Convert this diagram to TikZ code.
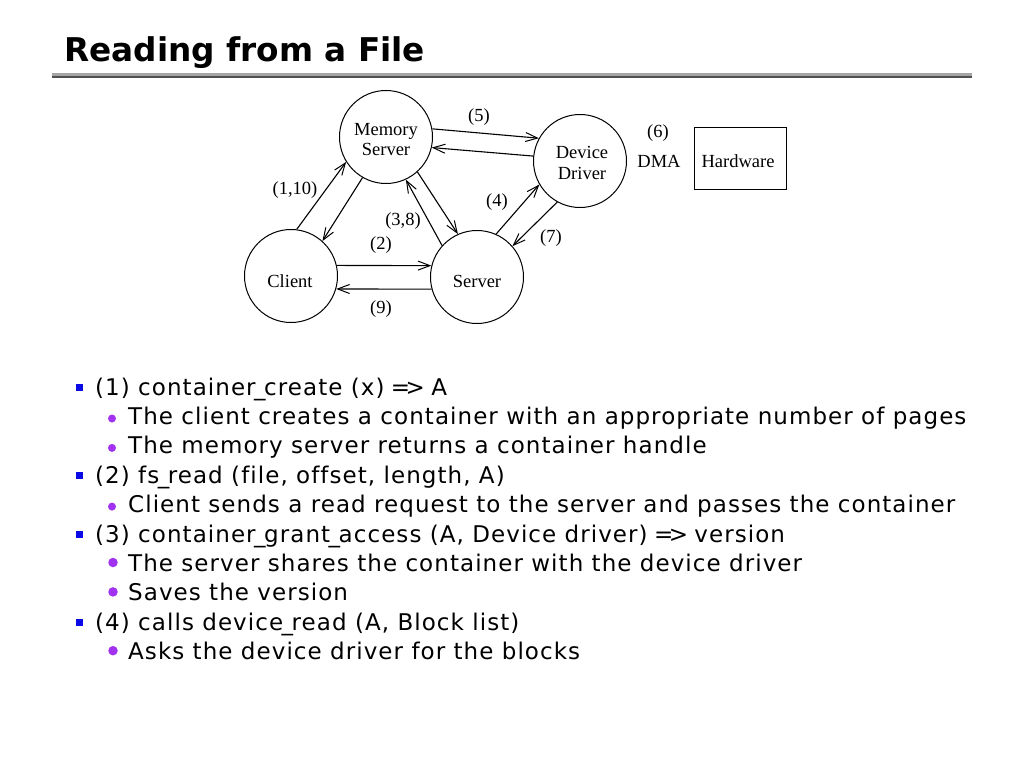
\documentclass[tikz,border=0pt]{standalone}
\usepackage{fontspec}
\usetikzlibrary{arrows.meta}
\newfontfamily\titlef{DejaVu Sans}
\newfontfamily\bodyf[LetterSpace=4.6,Ligatures=NoCommon]{DejaVu Sans}
\newfontfamily\diagf{Liberation Serif}
\newcommand\usc{\kern-1.5pt\_\kern-1.5pt}
\newcommand\impl{\kern-2pt=\kern-4.5pt>\kern-2pt}
\definecolor{bulblue}{RGB}{10,10,230}
\definecolor{bulpurple}{RGB}{160,50,240}
\definecolor{rulelight}{RGB}{165,165,165}
\definecolor{ruledark}{RGB}{80,80,80}
\tikzset{
  proc/.style={draw, circle, minimum size=93pt, inner sep=0pt, line width=1pt},
  ptxt/.style={font=\diagf\fontsize{18.5}{20}\selectfont, align=center, inner sep=0pt},
  hwbox/.style={draw, rectangle, minimum width=92pt, minimum height=62pt, inner sep=0pt, line width=1pt},
  lbl/.style={font=\diagf\fontsize{18.5}{20}\selectfont, inner sep=0pt},
  msg/.style={line width=1.1pt, -{Straight Barb[length=12pt,width=9pt,line width=1pt]}},
  item/.style={anchor=base west, inner sep=0pt, font=\bodyf\fontsize{23}{28}\selectfont},
  sq/.style={fill=bulblue, minimum size=7.5pt, inner sep=0pt, rectangle},
  dotS/.style={fill=bulpurple, circle, minimum size=8pt, inner sep=0pt},
  dotL/.style={fill=bulpurple, circle, minimum size=9.5pt, inner sep=0pt},
}
\begin{document}
\begin{tikzpicture}[x=1pt,y=-1pt]
\useasboundingbox[fill=white] (0,0) rectangle (1024,768);
% title
\node[anchor=base west, inner sep=0pt, font=\titlef\bfseries\fontsize{32.7}{36}\selectfont] (title) at (64,61) {Reading from a File};
\fill[rulelight] (52,73) rectangle (972,75.5);
\fill[ruledark] (52,75.5) rectangle (972,78);
% diagram nodes
\node[proc] (mem) at (386,137) {};
\node[ptxt] (memt) at (386,140) {Memory\\Server};
\node[proc] (cli) at (291,276) {};
\node[ptxt] (clit) at (290,281) {Client};
\node[proc] (srv) at (477,277) {};
\node[ptxt] (srvt) at (477,281) {Server};
\node[proc] (dev) at (580,161) {};
\node[ptxt, font=\diagf\fontsize{18.5}{21}\selectfont] (devt) at (582,163) {Device\\Driver};
\node[hwbox] (hw) at (740,158) {};
\node[lbl] (hwt) at (738,161) {Hardware};
% connectors
\draw[msg] (mem.10) -- (dev.151);
\draw[msg] (dev.174) -- (mem.-13);
\draw[msg] (cli.83) -- (mem.212);
\draw[msg] (mem.240) -- (cli.48);
\draw[msg] (mem.312) -- (srv.114);
\draw[msg] (srv.138) -- (mem.295);
\draw[msg] (cli.13) -- (srv.166);
\draw[msg] (srv.195) -- (cli.-16);
\draw[msg] (srv.66) -- (dev.210);
\draw[msg] (dev.241) -- (srv.41);
% labels
\node[lbl] (l5) at (479,117) {(5)};
\node[lbl] (l110) at (295,190) {(1,10)};
\node[lbl] (l38) at (403,221) {(3,8)};
\node[lbl] (l2) at (381,245) {(2)};
\node[lbl] (l9) at (381,309) {(9)};
\node[lbl] (l4) at (497,202) {(4)};
\node[lbl] (l7) at (551,238) {(7)};
\node[lbl] (l6) at (658,133) {(6)};
\node[lbl] (dma) at (659,161) {DMA};
% bullet list
\node[sq] (b1) at (79.5,387.5) {};
\node[item] (t1) at (95,395) {(1) container\usc create (x) \impl\ A};
\node[dotS] (b2) at (112,418.5) {};
\node[item] (t2) at (128,424.4) {The client creates a container with an appropriate number of pages};
\node[dotS] (b3) at (112,447.9) {};
\node[item] (t3) at (128,453.8) {The memory server returns a container handle};
\node[sq] (b4) at (79.5,475.7) {};
\node[item] (t4) at (95,483.2) {(2) fs\usc read (file, offset, length, A)};
\node[dotS] (b5) at (112,506.6) {};
\node[item] (t5) at (128,512.6) {Client sends a read request to the server and passes the container};
\node[sq] (b6) at (79.5,534.5) {};
\node[item] (t6) at (95,542) {(3) container\usc grant\usc access (A, Device driver) \impl\ version};
\node[dotL] (b7) at (113,562.5) {};
\node[item] (t7) at (128,571.4) {The server shares the container with the device driver};
\node[dotL] (b8) at (113,591.9) {};
\node[item] (t8) at (128,600.8) {Saves the version};
\node[sq] (b9) at (79.5,622.7) {};
\node[item] (t9) at (95,630.2) {(4) calls device\usc read (A, Block list)};
\node[dotL] (b10) at (113,650.7) {};
\node[item] (t10) at (128,659.6) {Asks the device driver for the blocks};
\end{tikzpicture}
\end{document}
